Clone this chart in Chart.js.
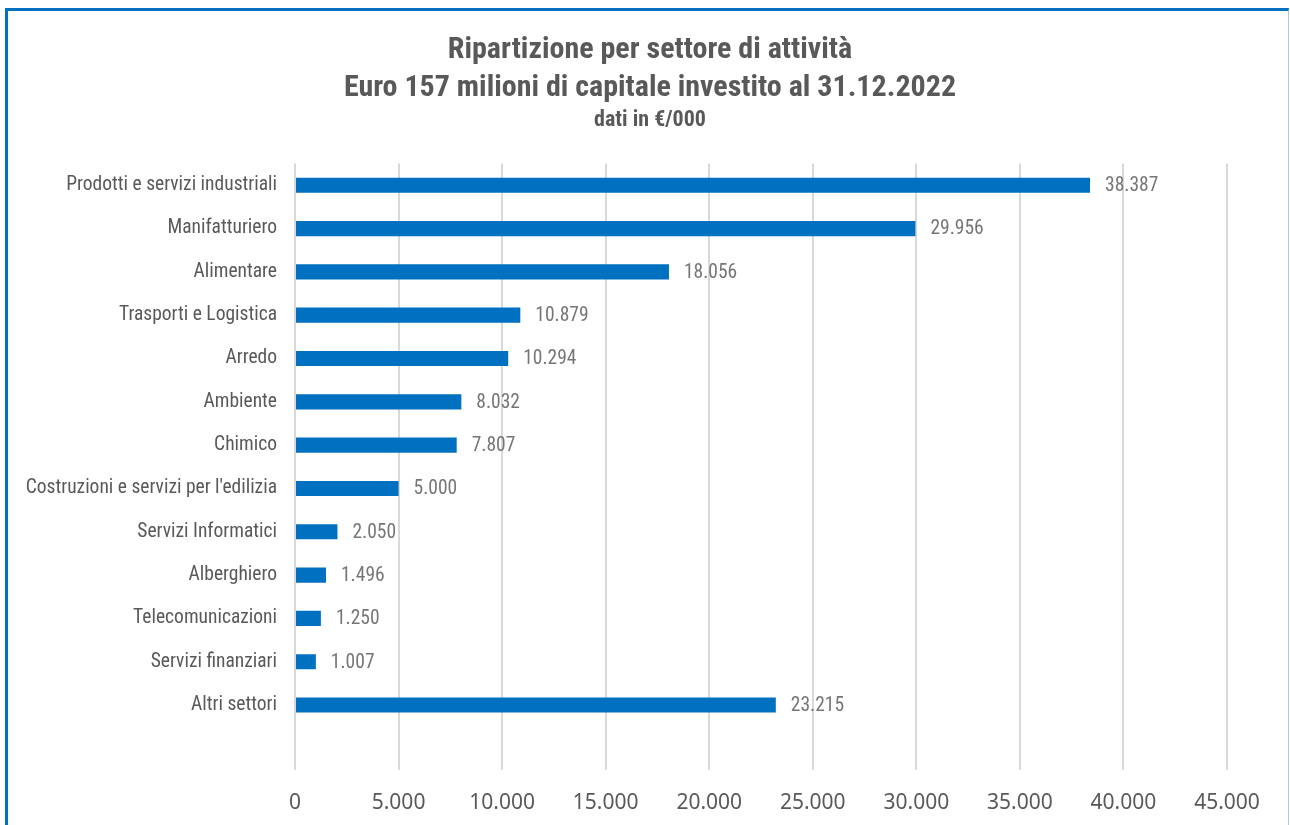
<!DOCTYPE html>
<html>
<head>
<meta charset="utf-8">
<script src="https://cdn.jsdelivr.net/npm/chart.js@4/dist/chart.umd.min.js"></script>
<style>
  html, body { margin: 0; padding: 0; background: #fff; }
  #wrap { position: relative; width: 1290px; height: 825px; overflow: hidden; }
  #frame {
    position: absolute; left: 5px; top: 8px; width: 1284px; height: 830px;
    border-top: 3px solid #0070c0; border-left: 3px solid #0070c0;
    border-right: 1px solid #a9c8e6; box-sizing: border-box; pointer-events: none;
  }
  canvas { position: absolute; left: 0; top: 0; }
</style>
</head>
<body>
<div id="wrap">
  <canvas id="sectorChart" width="1290" height="825"></canvas>
  <div id="frame"></div>
</div>
<script>
const NARROW = "'Liberation Sans Narrow', 'Arial Narrow', 'Roboto Condensed', sans-serif";

const sectors = [
    'Prodotti e servizi industriali',
    'Manifatturiero',
    'Alimentare',
    'Trasporti e Logistica',
    'Arredo',
    'Ambiente',
    'Chimico',
    "Costruzioni e servizi per l'edilizia",
    'Servizi Informatici',
    'Alberghiero',
    'Telecomunicazioni',
    'Servizi finanziari',
    'Altri settori',
    ''
];
const invested = [38387, 29956, 18056, 10879, 10294, 8032, 7807, 5000, 2050, 1496, 1250, 1007, 23215, null];
const xTicks = [0, 5000, 10000, 15000, 20000, 25000, 30000, 35000, 40000, 45000];

function formatIt(n) {
    return String(n).replace(/\B(?=(\d{3})+(?!\d))/g, '.');
}

// value labels at the end of each bar
const barValueLabels = {
    id: 'barValueLabels',
    afterDatasetsDraw(chart) {
        const ctx = chart.ctx;
        const meta = chart.getDatasetMeta(0);
        ctx.save();
        ctx.font = '19.5px ' + NARROW;
        ctx.fillStyle = '#767676';
        ctx.textAlign = 'left';
        ctx.textBaseline = 'middle';
        meta.data.forEach((bar, i) => {
            const v = invested[i];
            if (v == null) return;
            ctx.fillText(formatIt(v), bar.x + 15, bar.y + 1);
        });
        ctx.restore();
    }
};

new Chart(document.getElementById('sectorChart').getContext('2d'), {
    type: 'bar',
    data: {
        labels: sectors,
        datasets: [{
            data: invested,
            backgroundColor: '#0070c0',
            borderWidth: 0,
            barPercentage: 0.35,
            categoryPercentage: 1
        }]
    },
    plugins: [barValueLabels],
    options: {
        indexAxis: 'y',
        responsive: false,
        animation: false,
        layout: { padding: { left: 10, right: 0, top: 0, bottom: 0 } },
        plugins: {
            legend: { display: false },
            tooltip: { enabled: false },
            title: {
                display: true,
                text: ['Ripartizione per settore di attività', 'Euro 157 milioni di capitale investito al 31.12.2022'],
                color: '#595959',
                font: { family: NARROW, size: 30, weight: 'bold', lineHeight: 1.27 },
                padding: { top: 31, bottom: 0 }
            },
            subtitle: {
                display: true,
                text: 'dati in €/000',
                color: '#595959',
                font: { family: NARROW, size: 22, weight: 'bold', lineHeight: 1.2 },
                padding: { top: 0, bottom: 30 }
            }
        },
        scales: {
            x: {
                min: 0,
                max: 45000,
                afterBuildTicks(axis) {
                    axis.ticks = xTicks.map(v => ({ value: v }));
                },
                afterFit(axis) { axis.height = 55; },
                ticks: {
                    color: '#595959',
                    font: { family: "'Noto Sans', 'Open Sans', sans-serif", size: 21 },
                    padding: 20,
                    callback: v => formatIt(v)
                },
                grid: { color: '#d9d9d9', lineWidth: 2, drawTicks: false },
                border: { display: false }
            },
            y: {
                afterFit(axis) { axis.width = 285; },
                ticks: {
                    color: '#595959',
                    font: { family: NARROW, size: 19.5 },
                    padding: 18
                },
                grid: { display: false, drawTicks: false },
                border: { display: false }
            },
            // empty right-hand gutter, so the title stays centred on the frame
            gutter: {
                type: 'linear',
                position: 'right',
                afterFit(axis) { axis.width = 63; },
                ticks: { display: false },
                grid: { display: false, drawTicks: false },
                border: { display: false }
            }
        }
    }
});
</script>
</body>
</html>
